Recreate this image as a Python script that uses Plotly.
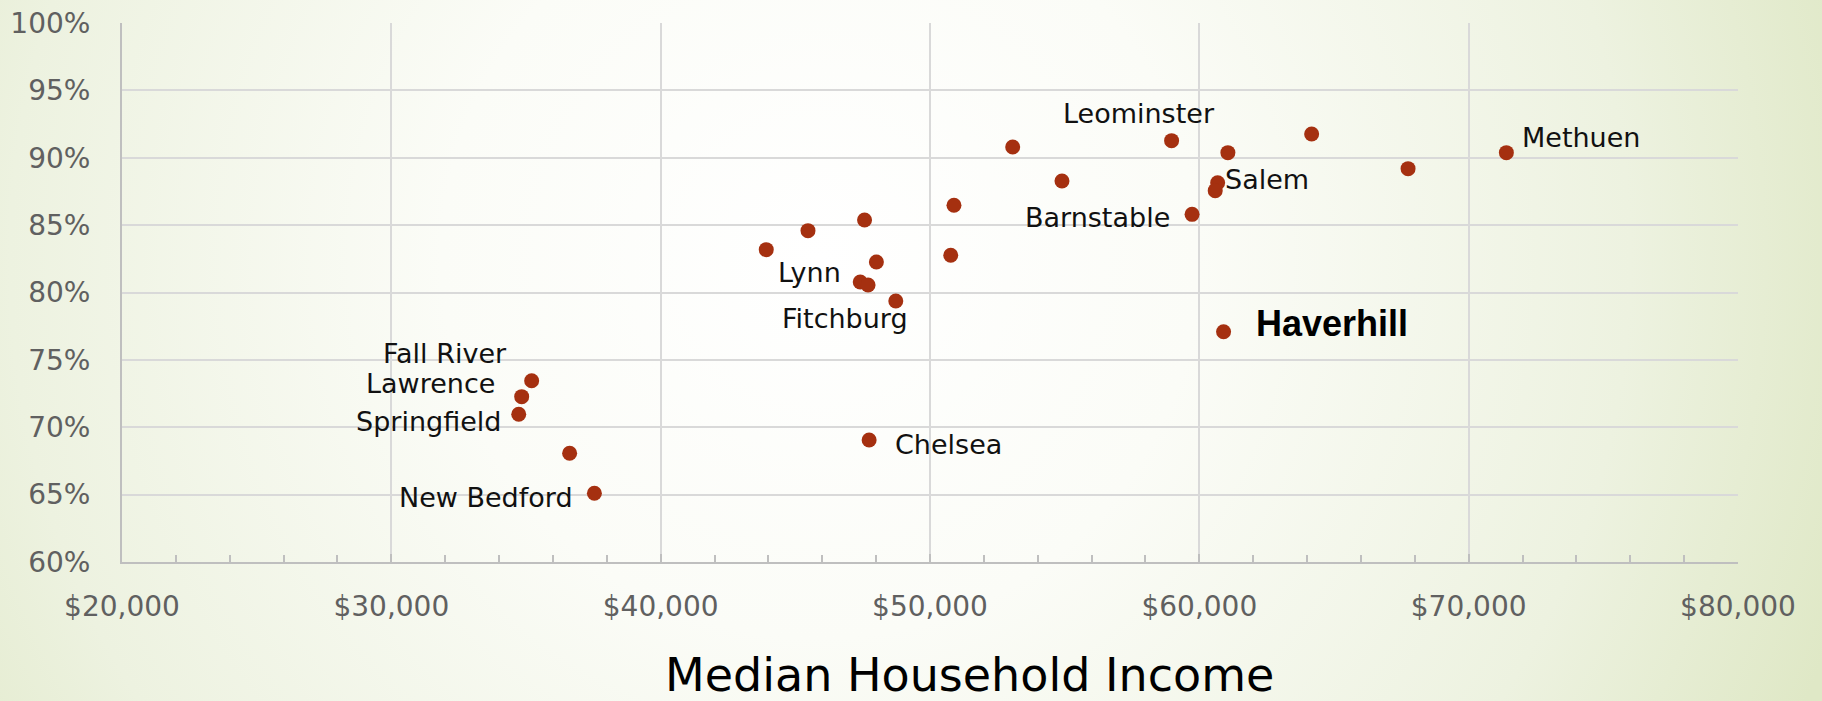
import base64
import plotly.graph_objects as go

# ---- data ----
income = [71400, 67750, 64170, 61060, 58970, 60680, 60590, 59730, 60900,
          54900, 53070, 50890, 50770, 47570, 45470, 43920, 48010, 47410,
          47700, 48730, 47740, 35210, 34840, 34730, 36620, 37540]
pct = [0.9038, 0.8919, 0.9176, 0.9038, 0.9127, 0.8815, 0.8756, 0.8580, 0.7709,
       0.8827, 0.9080, 0.8647, 0.8276, 0.8538, 0.8459, 0.8318, 0.8226, 0.8078,
       0.8056, 0.7937, 0.6905, 0.7345, 0.7227, 0.7096, 0.6807, 0.6510]
names = ["Methuen", "", "", "", "Leominster", "Salem", "", "Barnstable", "Haverhill",
         "", "", "", "", "", "", "", "", "Lynn",
         "", "Fitchburg", "Chelsea", "Fall River", "Lawrence", "Springfield", "", "New Bedford"]

x_ticks = [20000, 30000, 40000, 50000, 60000, 70000, 80000]
y_ticks = [0.60, 0.65, 0.70, 0.75, 0.80, 0.85, 0.90, 0.95, 1.00]

# label placement (anchor, pixel shift x, pixel shift y)
label_pos = {
    "Methuen": ("left", 14, 15),
    "Leominster": ("center", -33, 27),
    "Salem": ("left", 5, 3),
    "Barnstable": ("right", -20, -3),
    "Haverhill": ("left", 30, 8),
    "Lynn": ("right", -17, 9),
    "Fitchburg": ("center", -51, -18),
    "Chelsea": ("left", 24, -4),
    "Fall River": ("center", -87, 27),
    "Lawrence": ("right", -25, 13),
    "Springfield": ("right", -16, -7),
    "New Bedford": ("right", -19, -4),
}

W, H = 1822, 701
L, R, T, B = 122, 84, 23, 139
pw, ph = W - L - R, H - T - B

svg = f'''<svg xmlns="http://www.w3.org/2000/svg" width="{W}" height="{H}" viewBox="0 0 {W} {H}" preserveAspectRatio="none">
<defs><radialGradient id="g" gradientUnits="userSpaceOnUse" cx="820" cy="260" r="1080">
<stop offset="0" stop-color="#ffffff"/><stop offset="0.35" stop-color="#fbfcf7"/>
<stop offset="0.75" stop-color="#edf2e0"/><stop offset="1" stop-color="#dfe8c6"/></radialGradient></defs>
<rect x="0" y="0" width="{W}" height="{H}" fill="url(#g)"/></svg>'''
bg = "data:image/svg+xml;base64," + base64.b64encode(svg.encode()).decode()

fig = go.Figure()
fig.add_trace(go.Scatter(
    x=income, y=pct, mode="markers",
    marker=dict(size=15, color="#A53010", line=dict(width=0)),
    hoverinfo="skip", showlegend=False))

for xi, yi, nm in zip(income, pct, names):
    if not nm:
        continue
    anchor, dx, dy = label_pos[nm]
    if nm == "Haverhill":
        font = dict(family="Liberation Sans", size=36, color="#000000", weight="bold")
        text = "<b>Haverhill</b>"
    else:
        font = dict(family="DejaVu Sans", size=27, color="#111111")
        text = nm
    fig.add_annotation(x=xi, y=yi, text=text, showarrow=False, xanchor=anchor,
                       yanchor="middle", xshift=dx, yshift=dy, font=font)

fig.add_annotation(x=(969 - L) / pw, y=(T + ph - 675) / ph, xref="paper", yref="paper",
                   text="Median Household Income", showarrow=False,
                   xanchor="center", yanchor="middle",
                   font=dict(family="DejaVu Sans", size=46, color="#000000"))

fig.add_layout_image(dict(source=bg, xref="paper", yref="paper",
                          x=-L / pw, y=1 + T / ph, sizex=W / pw, sizey=H / ph,
                          xanchor="left", yanchor="top", sizing="stretch", layer="below"))

fig.update_layout(
    width=W, height=H,
    margin=dict(l=L, r=R, t=T, b=B, autoexpand=False),
    paper_bgcolor="#f6f8ee", plot_bgcolor="rgba(0,0,0,0)",
    font=dict(family="DejaVu Sans"),
)
fig.update_xaxes(range=[20000, 80000], tickvals=x_ticks, tickformat="$,.0f",
                 automargin=False,
                 showgrid=True, gridcolor="#d9d9d9", gridwidth=1.5,
                 showline=True, linecolor="#bfbfbf", linewidth=2,
                 ticks="inside", ticklen=8, tickcolor="#bfbfbf", tickwidth=1.5,
                 minor=dict(dtick=2000, ticks="inside", ticklen=7, tickcolor="#bfbfbf",
                            tickwidth=1.5, showgrid=False),
                 tickfont=dict(family="DejaVu Sans", size=28, color="#606060"),
                 ticklabelstandoff=18, zeroline=False)
fig.update_yaxes(range=[0.6, 1.0], tickvals=y_ticks, tickformat=".0%",
                 automargin=False,
                 showgrid=True, gridcolor="#d9d9d9", gridwidth=1.5,
                 showline=True, linecolor="#bfbfbf", linewidth=2, ticks="",
                 tickfont=dict(family="DejaVu Sans", size=28, color="#606060"),
                 ticklabelstandoff=24, zeroline=False)

fig.write_html("out.html", config={"displayModeBar": False},
               post_script="document.body.style.margin='0';document.body.style.overflow='hidden';")
